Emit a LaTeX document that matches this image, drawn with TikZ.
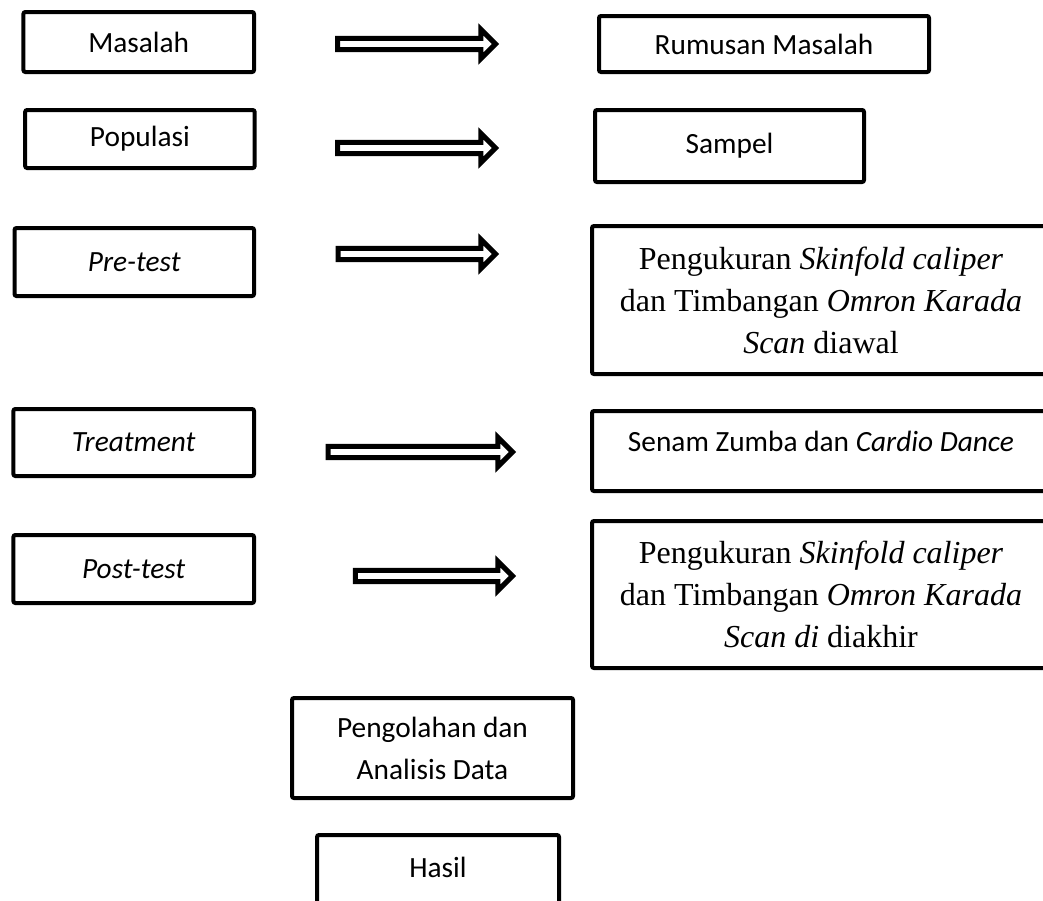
\documentclass[tikz,border=0pt]{standalone}
\usepackage{fontspec}
\setmainfont{Carlito}
\newfontfamily\timesfont{Liberation Serif}
\usetikzlibrary{shapes.arrows}
\tikzset{
    % Plain box with thick black border
    flowbox/.style={
        draw=black,
        line width=2pt,
        rounded corners=1pt,
        align=center,
        inner sep=0pt,
        font=\fontsize{14.67}{21}\selectfont,
    },
    % Box with serif text for the measurement steps
    serifbox/.style={
        flowbox,
        font=\timesfont\fontsize{16}{21}\selectfont,
    },
    % Hollow block arrow between the columns
    hollow arrow/.style={
        single arrow,
        draw=black,
        fill=white,
        line width=2.5pt,
        single arrow head extend=4.5pt,
        inner xsep=0pt,
        inner ysep=1.6pt,
        outer sep=0pt,
        minimum width=0pt,
        anchor=tail,
    },
}

\begin{document}
\begin{tikzpicture}[x=0.5pt, y=-0.5pt]
    \useasboundingbox (0,0) rectangle (1043,900);
    \clip (0,0) rectangle (1043,900);

    % left column
    \node (masalah) [flowbox, minimum width=115.3pt, minimum height=30pt] at (138.7,42) {Masalah};
    \node (populasi) [flowbox, minimum width=114.75pt, minimum height=29pt] at (139.9,139) {Populasi};
    \node (pretest) [flowbox, minimum width=119.75pt, minimum height=34pt] at (134.25,262) {\textit{Pre-test}};
    \node (treatment) [flowbox, minimum width=120.3pt, minimum height=33.5pt] at (133.7,442.5) {\textit{Treatment}};
    \node (posttest) [flowbox, minimum width=120.3pt, minimum height=34pt] at (133.7,569) {\textit{Post-test}};

    % right column
    \node (rumusan) [flowbox, minimum width=165pt, minimum height=28pt] at (764,44) {Rumusan Masalah};
    \node (sampel) [flowbox, minimum width=134.5pt, minimum height=36pt] at (729.5,146) {Sampel};
    \node (ukurawal) [serifbox, minimum width=229pt, minimum height=74pt] at (821,300)
        {Pengukuran \textit{Skinfold caliper}\\dan Timbangan \textit{Omron Karada}\\\textit{Scan} diawal};
    \node (senam) [flowbox, minimum width=229pt, minimum height=40pt, text height=10pt, text depth=10pt] at (821,451)
        {Senam Zumba dan \textit{Cardio Dance}};
    \node (ukurakhir) [serifbox, minimum width=229pt, minimum height=73.5pt] at (821,594.5)
        {Pengukuran \textit{Skinfold caliper}\\dan Timbangan \textit{Omron Karada}\\\textit{Scan di} diakhir};

    % bottom
    \node (olah) [flowbox, minimum width=140.5pt, minimum height=50pt] at (432.5,748) {Pengolahan dan\\Analisis Data};
    \node (hasil) [flowbox, minimum width=121pt, minimum height=44pt, text height=9pt, text depth=11pt] at (438,879) {Hasil};

    % block arrows
    \node (arrA) [hollow arrow, minimum height=79pt] at (337.5,44) {};
    \node (arrB) [hollow arrow, minimum height=79pt] at (337.5,148) {};
    \node (arrC) [hollow arrow, minimum height=78.65pt] at (338.2,254) {};
    \node (arrD) [hollow arrow, minimum height=92.15pt] at (328.2,452) {};
    \node (arrE) [hollow arrow, minimum height=78.55pt] at (355.4,576) {};
\end{tikzpicture}
\end{document}
